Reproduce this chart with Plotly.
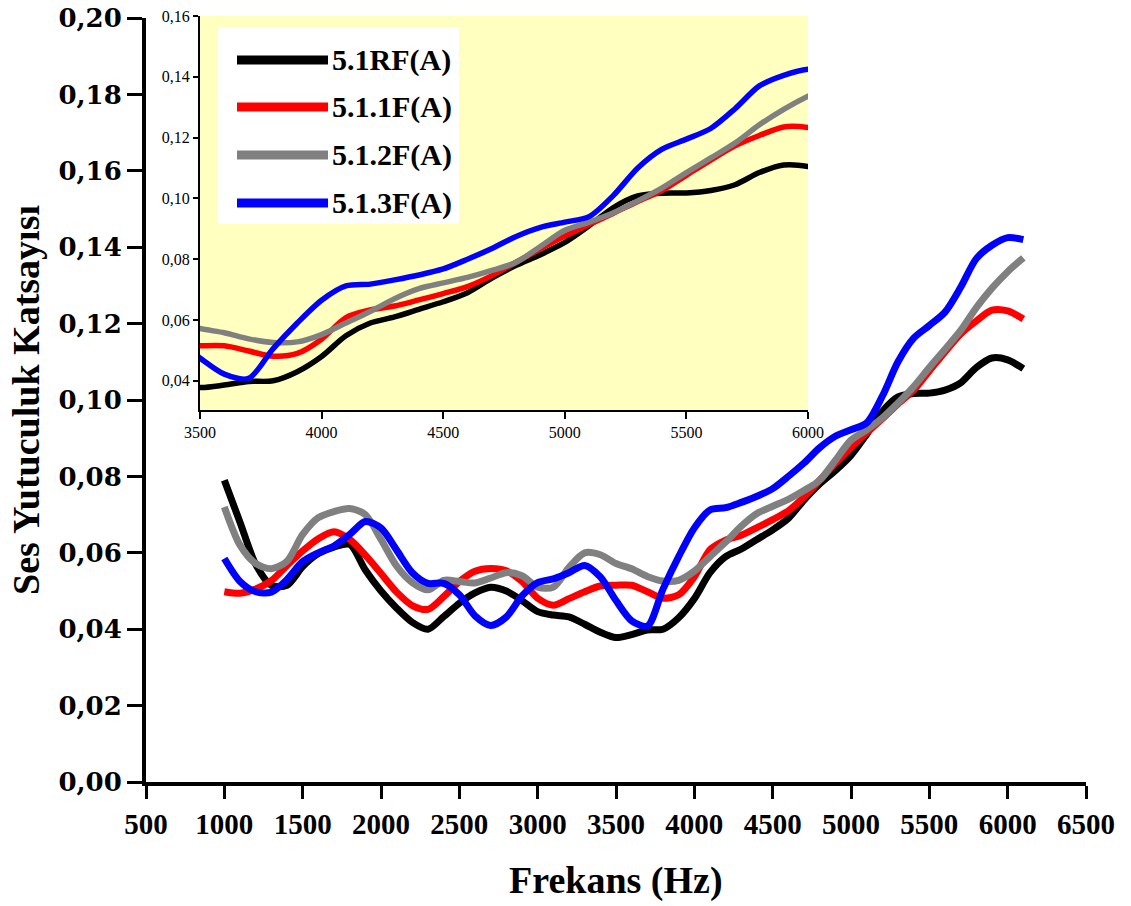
import plotly.graph_objects as go

# Frequency grid (Hz) shared by all four samples
freq = [1000, 1100, 1200, 1300, 1400, 1500, 1600, 1700, 1800, 1900,
        2000, 2100, 2200, 2300, 2400, 2500, 2600, 2700, 2800, 2900,
        3000, 3100, 3200, 3300, 3400, 3500, 3600, 3700, 3800, 3900,
        4000, 4100, 4200, 4300, 4400, 4500, 4600, 4700, 4800, 4900,
        5000, 5100, 5200, 5300, 5400, 5500, 5600, 5700, 5800, 5900,
        6000, 6100]

# Sound absorption coefficients
s_51RF = [0.079, 0.068, 0.057, 0.0515, 0.0515, 0.0564, 0.0598, 0.0615, 0.0622, 0.0555,
          0.0500, 0.0455, 0.0418, 0.0400, 0.0433, 0.0468, 0.0495, 0.0510, 0.0500, 0.0475,
          0.0446, 0.0437, 0.0432, 0.0413, 0.0392, 0.0378, 0.0386, 0.0398, 0.0400, 0.0430,
          0.0480, 0.0548, 0.0590, 0.0610, 0.0635, 0.0660, 0.0690, 0.0738, 0.0780, 0.0815,
          0.0855, 0.0910, 0.0970, 0.1008, 0.1017, 0.1018, 0.1026, 0.1045, 0.1085, 0.1110,
          0.1105, 0.1082]
s_511F = [0.0498, 0.0494, 0.0505, 0.0527, 0.0567, 0.0605, 0.0637, 0.0655, 0.0635, 0.0594,
          0.0546, 0.0497, 0.0462, 0.0452, 0.0485, 0.0525, 0.0552, 0.0559, 0.0553, 0.0525,
          0.0481, 0.0463, 0.0480, 0.0498, 0.0513, 0.0515, 0.0515, 0.0498, 0.0481, 0.0490,
          0.0537, 0.0608, 0.0633, 0.0646, 0.0666, 0.0687, 0.0710, 0.0746, 0.0790, 0.0834,
          0.0876, 0.0914, 0.0951, 0.0990, 0.1026, 0.1076, 0.1126, 0.1173, 0.1207, 0.1235,
          0.1233, 0.1212]
s_512F = [0.0720, 0.0620, 0.0572, 0.0558, 0.0578, 0.0648, 0.0692, 0.0708, 0.0716, 0.0700,
          0.0635, 0.0565, 0.0522, 0.0503, 0.0528, 0.0525, 0.0521, 0.0534, 0.0548, 0.0540,
          0.0510, 0.0510, 0.0562, 0.0600, 0.0595, 0.0572, 0.0558, 0.0538, 0.0526, 0.0528,
          0.0552, 0.0590, 0.0628, 0.0670, 0.0703, 0.0722, 0.0740, 0.0763, 0.0790, 0.0842,
          0.0895, 0.0922, 0.0953, 0.0992, 0.1035, 0.1085, 0.1133, 0.1182, 0.1242, 0.1293,
          0.1336, 0.1372]
s_513F = [0.0585, 0.0525, 0.0498, 0.0497, 0.0530, 0.0577, 0.0600, 0.0618, 0.0648, 0.0682,
          0.0665, 0.0607, 0.0548, 0.0520, 0.0520, 0.0490, 0.0435, 0.0410, 0.0432, 0.0487,
          0.0522, 0.0532, 0.0548, 0.0567, 0.0537, 0.0475, 0.0422, 0.0408, 0.0505, 0.0590,
          0.0665, 0.0712, 0.0718, 0.0732, 0.0748, 0.0768, 0.0800, 0.0835, 0.0875, 0.0905,
          0.0922, 0.0940, 0.1010, 0.1100, 0.1162, 0.1195, 0.1230, 0.1295, 0.1370, 0.1405,
          0.1425, 0.1420]

series_names = ["5.1RF(A)", "5.1.1F(A)", "5.1.2F(A)", "5.1.3F(A)"]
series_vals = [s_51RF, s_511F, s_512F, s_513F]
series_colors = ["#000000", "#FF0000", "#808080", "#0000FF"]

# Tick labels
x_main_ticks = [500, 1000, 1500, 2000, 2500, 3000, 3500, 4000, 4500, 5000, 5500, 6000, 6500]
x_main_text = ["500", "1000", "1500", "2000", "2500", "3000", "3500", "4000",
               "4500", "5000", "5500", "6000", "6500"]
y_main_ticks = [0.00, 0.02, 0.04, 0.06, 0.08, 0.10, 0.12, 0.14, 0.16, 0.18, 0.20]
y_main_text = ["0,00", "0,02", "0,04", "0,06", "0,08", "0,10", "0,12", "0,14",
               "0,16", "0,18", "0,20"]
x_inset_ticks = [3500, 4000, 4500, 5000, 5500, 6000]
x_inset_text = ["3500", "4000", "4500", "5000", "5500", "6000"]
y_inset_ticks = [0.04, 0.06, 0.08, 0.10, 0.12, 0.14, 0.16]
y_inset_text = ["0,04", "0,06", "0,08", "0,10", "0,12", "0,14", "0,16"]

W, H = 1131, 906
SERIF = "Liberation Serif"
WIDE_SERIF = "DejaVu Serif"


def px(x):
    return x / W


def py(y):
    return 1 - y / H


fig = go.Figure()

# Main curves
for name, vals, col in zip(series_names, series_vals, series_colors):
    fig.add_trace(go.Scatter(x=freq, y=vals, mode="lines", name=name,
                             line=dict(color=col, width=7, shape="spline", smoothing=0.8),
                             xaxis="x", yaxis="y", showlegend=False))

# Inset (zoom on 3500-6000 Hz)
for name, vals, col in zip(series_names, series_vals, series_colors):
    fig.add_trace(go.Scatter(x=freq, y=vals, mode="lines", name=name,
                             line=dict(color=col, width=5.5, shape="spline", smoothing=0.8),
                             xaxis="x2", yaxis="y2", showlegend=False))

axis_common = dict(showgrid=False, zeroline=False, showline=True, linecolor="black",
                   ticks="outside", tickcolor="black", fixedrange=True, automargin=False)

fig.update_layout(
    width=W, height=H,
    margin=dict(l=0, r=0, t=0, b=0, autoexpand=False),
    paper_bgcolor="white", plot_bgcolor="rgba(0,0,0,0)",
    showlegend=False,
    xaxis=dict(domain=[px(146), px(1086)], range=[500, 6500], anchor="y",
               tickvals=x_main_ticks, ticktext=x_main_text,
               linewidth=4, tickwidth=3, ticklen=13,
               tickfont=dict(family=SERIF, size=29, color="black", weight="bold"),
               **axis_common),
    yaxis=dict(domain=[py(782), py(18)], range=[0, 0.20], anchor="x",
               tickvals=y_main_ticks, ticktext=y_main_text,
               linewidth=4, tickwidth=3, ticklen=15,
               tickfont=dict(family=WIDE_SERIF, size=26, color="black", weight="bold"),
               **axis_common),
    xaxis2=dict(domain=[px(200), px(808)], range=[3500, 6000], anchor="y2",
                tickvals=x_inset_ticks, ticktext=x_inset_text,
                linewidth=2, tickwidth=2, ticklen=7,
                tickfont=dict(family=SERIF, size=16, color="black"),
                **axis_common),
    yaxis2=dict(domain=[py(410), py(16)], range=[0.0304, 0.16], anchor="x2",
                tickvals=y_inset_ticks, ticktext=y_inset_text,
                linewidth=2, tickwidth=2, ticklen=5,
                tickfont=dict(family=SERIF, size=16, color="black"),
                **axis_common),
)

shapes = [
    # pale yellow inset background
    dict(type="rect", xref="x2 domain", yref="y2 domain", x0=0, x1=1, y0=0, y1=1,
         fillcolor="#FFFFC0", line=dict(width=0), layer="below"),
    # legend box
    dict(type="rect", xref="paper", yref="paper", x0=px(218), x1=px(459),
         y0=py(224), y1=py(27), fillcolor="white", line=dict(width=0), layer="above"),
]
legend_rows = [60, 107, 155, 203]
annotations = []
for name, col, yrow in zip(series_names, series_colors, legend_rows):
    shapes.append(dict(type="line", xref="paper", yref="paper",
                       x0=px(237), x1=px(328), y0=py(yrow), y1=py(yrow),
                       line=dict(color=col, width=9), layer="above"))
    annotations.append(dict(x=px(330), y=py(yrow), xref="paper", yref="paper",
                            text=name, showarrow=False, xanchor="left", yanchor="middle",
                            font=dict(family=SERIF, size=30, color="black", weight="bold")))

# Axis titles
annotations.append(dict(x=px(616), y=py(880), xref="paper", yref="paper",
                        text="Frekans (Hz)", showarrow=False,
                        xanchor="center", yanchor="middle",
                        font=dict(family=SERIF, size=38, color="black", weight="bold")))
annotations.append(dict(x=px(26), y=py(400), xref="paper", yref="paper",
                        text="Ses Yutuculuk Katsayısı", showarrow=False, textangle=-90,
                        xanchor="center", yanchor="middle",
                        font=dict(family=SERIF, size=38, color="black", weight="bold")))

fig.update_layout(shapes=shapes, annotations=annotations)

fig.write_html("out.html")
